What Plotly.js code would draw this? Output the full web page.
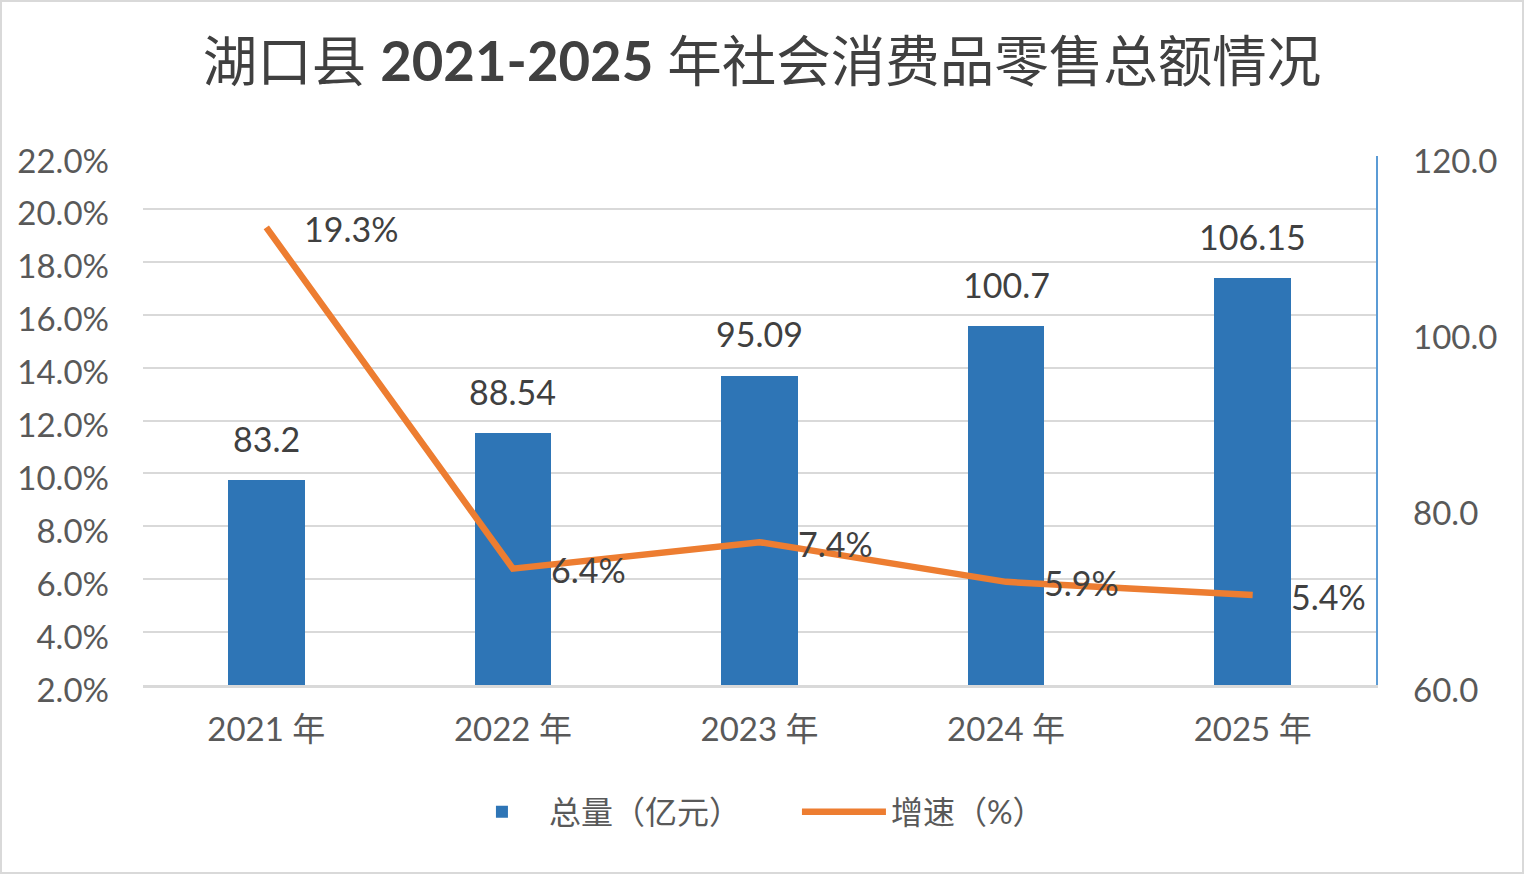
<!DOCTYPE html>
<html>
<head>
<meta charset="utf-8">
<script src="https://cdn.plot.ly/plotly-3.0.1.min.js"></script>
<style>
  body { margin: 0; background: #fff; }
  #chart { width: 1520px; height: 870px; border: 2px solid #d9d9d9; }
</style>
</head>
<body>
<div id="chart"></div>
<script>
// 数据
const years = ['2021 年', '2022 年', '2023 年', '2024 年', '2025 年'];
const total = [83.2, 88.54, 95.09, 100.7, 106.15];   // 总量（亿元）
const growth = [19.3, 6.4, 7.4, 5.9, 5.4];           // 增速（%）

const fontFam = "Lato, 'Noto Sans CJK SC', sans-serif";

// 柱状图 - 总量
const barTrace = {
    type: 'bar',
    name: '总量（亿元）',
    x: years,
    y: total,
    yaxis: 'y',
    width: 0.31,
    marker: { color: '#2E75B6' },
    hoverinfo: 'skip'
};

// 折线 - 增速
const lineTrace = {
    type: 'scatter',
    mode: 'lines',
    name: '增速（%）',
    x: years,
    y: growth,
    yaxis: 'y2',
    line: { color: '#ED7D31', width: 6.5 },
    hoverinfo: 'skip'
};

// 数据标签
const labels = [];
years.forEach((yr, i) => {
    labels.push({
        x: yr, y: total[i], xref: 'x', yref: 'y',
        text: String(total[i]), showarrow: false,
        yshift: 42, yanchor: 'middle',
        font: { family: fontFam, size: 34, color: '#404040' }
    });
    labels.push({
        x: yr, y: growth[i], xref: 'x', yref: 'y2',
        text: growth[i].toFixed(1) + '%', showarrow: false,
        xanchor: 'left', xshift: 36, yshift: -1,
        font: { family: fontFam, size: 34, color: '#404040' }
    });
});

const layout = {
    width: 1520,
    height: 870,
    paper_bgcolor: '#fff',
    plot_bgcolor: '#fff',
    margin: { l: 141, r: 146, t: 154, b: 187 },
    font: { family: fontFam, color: '#595959' },
    title: {
        text: '湖口县 <b>2021-2025</b> 年社会消费品零售总额情况',
        font: { family: fontFam, size: 54.5, color: '#404040' },
        x: 0.5, xanchor: 'center',
        y: 0.931, yanchor: 'middle', yref: 'container'
    },
    xaxis: {
        type: 'category',
        showgrid: false,
        showline: true, linecolor: '#d9d9d9', linewidth: 2.5,
        ticks: '', ticklabelstandoff: 14,
        tickfont: { size: 33, color: '#595959' },
        fixedrange: true
    },
    // 右轴（总量）
    yaxis: {
        side: 'right',
        range: [60, 120], dtick: 20, tickformat: '.1f',
        showgrid: false, zeroline: false,
        showline: true, linecolor: '#5B9BD5', linewidth: 1.5,
        ticks: '', ticklabelstandoff: 29, ticklabelshift: 5,
        tickfont: { size: 33, color: '#595959' },
        fixedrange: true
    },
    // 左轴（增速）
    yaxis2: {
        overlaying: 'y', side: 'left',
        range: [2, 22], dtick: 2, tickformat: '.1f', ticksuffix: '%',
        showgrid: true, gridcolor: '#d9d9d9', gridwidth: 2,
        zeroline: false, showline: false,
        ticks: '', ticklabelstandoff: 33, ticklabelshift: 5,
        tickfont: { size: 33, color: '#595959' },
        fixedrange: true
    },
    bargap: 0,
    showlegend: true,
    legend: {
        orientation: 'h',
        x: 0.253, xanchor: 'left',
        y: -0.24, yanchor: 'middle',
        font: { size: 32, color: '#595959' },
        itemwidth: 84,
        entrywidth: 243,
        traceorder: 'normal'
    },
    annotations: labels
};

Plotly.newPlot('chart', [barTrace, lineTrace], layout, { staticPlot: true });
</script>
</body>
</html>
